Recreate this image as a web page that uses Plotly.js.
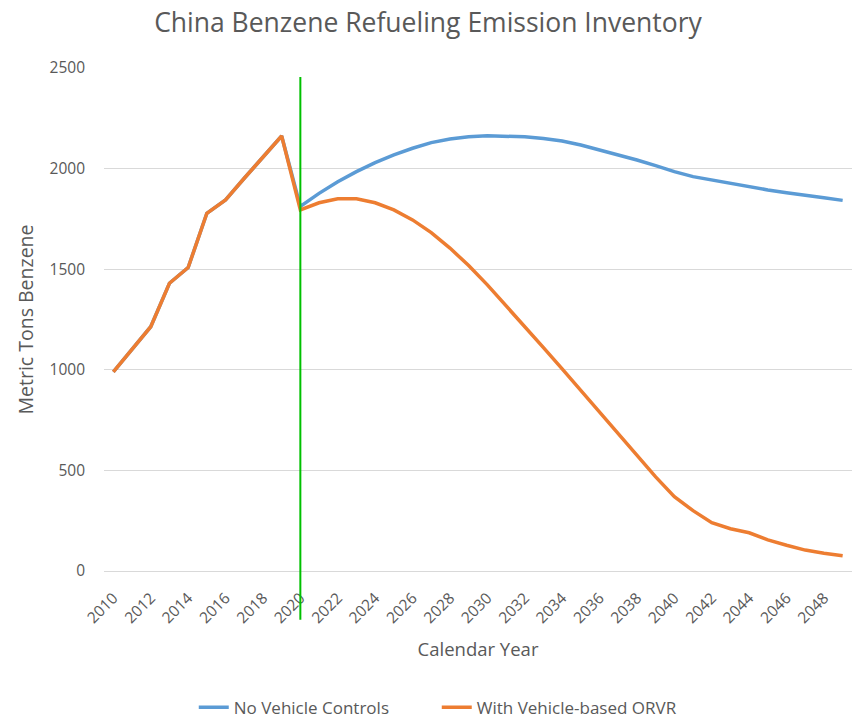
<!DOCTYPE html>
<html>
<head>
<meta charset="utf-8">
<script src="https://cdn.plot.ly/plotly-3.0.1.min.js"></script>
<style>html,body{margin:0;padding:0;background:#fff}#chart{width:856px;height:720px}</style>
</head>
<body>
<div id="chart"></div>
<script>
const years = [];
for (let y = 2010; y <= 2049; y++) years.push(y);

const noControls = [990, 1105, 1214, 1430, 1508, 1778, 1844, 1952, 2058, 2162,
  1812, 1877, 1935, 1985, 2030, 2068, 2101, 2129, 2147, 2158,
  2163, 2162, 2158, 2150, 2137, 2117, 2093, 2068, 2043, 2015,
  1985, 1960, 1943, 1927, 1910, 1894, 1880, 1869, 1855, 1842];

const withORVR = [990, 1105, 1214, 1430, 1508, 1778, 1844, 1952, 2058, 2162,
  1795, 1830, 1850, 1850, 1830, 1795, 1745, 1682, 1605, 1518,
  1422, 1320, 1215, 1110, 1005, 898, 790, 682, 573, 468,
  369, 300, 240, 210, 190, 155, 128, 104, 88, 76];

const seriesNames = ["No Vehicle Controls", "With Vehicle-based ORVR"];
const policyYear = 2020;

const font = "'Open Sans', 'Noto Sans', sans-serif";
const grey = "#595959";

const traces = [
  {x: years, y: noControls, name: seriesNames[0], mode: "lines",
   line: {color: "#5B9BD5", width: 3.5}},
  {x: years, y: withORVR, name: seriesNames[1], mode: "lines",
   line: {color: "#ED7D31", width: 3.5}}
];

const layout = {
  width: 856, height: 720,
  margin: {l: 104, r: 4, t: 68, b: 149, autoexpand: false},
  paper_bgcolor: "#fff", plot_bgcolor: "#fff",
  font: {family: font, color: grey},
  title: {text: "China Benzene Refueling Emission Inventory",
          font: {size: 26.5, color: grey, family: font},
          x: 0.5, xanchor: "center", y: 0.969, yanchor: "middle", yref: "container"},
  xaxis: {range: [2009.5, 2049.5], tick0: 2010, dtick: 2, tickangle: -45,
          automargin: false,
          showgrid: false, zeroline: false, showline: false, ticks: "",
          ticklabelstandoff: 14,
          tickfont: {size: 15.5, color: grey},
          title: {text: "Calendar Year", font: {size: 18.5, color: grey}, standoff: 16}},
  yaxis: {range: [0, 2500], dtick: 500, showgrid: true, gridcolor: "#D9D9D9", gridwidth: 1.3,
          automargin: false,
          zeroline: true, zerolinecolor: "#D9D9D9", zerolinewidth: 1.3, showline: false,
          ticks: "", ticklabelstandoff: 18, tickfont: {size: 15.5, color: grey},
          title: {text: "Metric Tons Benzene", font: {size: 19.5, color: grey}, standoff: 10}},
  showlegend: true,
  legend: {orientation: "h", x: 0.12, xanchor: "left", y: -0.272, yanchor: "middle",
           font: {size: 17, color: grey}, entrywidth: 198, entrywidthmode: "pixels",
           traceorder: "normal"},
  shapes: [{type: "line", xref: "x", yref: "paper", x0: policyYear, x1: policyYear,
            y0: 0.982, y1: -0.097, line: {color: "#00C000", width: 2}, layer: "above"}]
};

Plotly.newPlot("chart", traces, layout, {displayModeBar: false, responsive: false});
</script>
</body>
</html>
